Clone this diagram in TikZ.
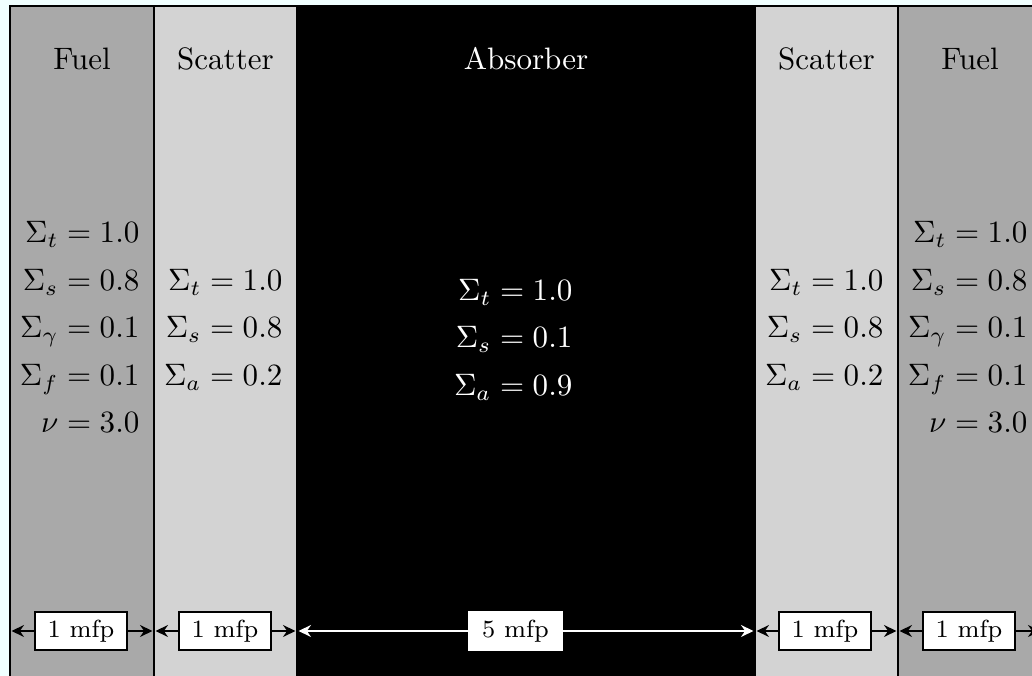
\documentclass[tikz,border=0pt]{standalone}
\usetikzlibrary{arrows.meta}
\definecolor{bgc}{RGB}{240,255,255}
\definecolor{fuelc}{RGB}{169,169,169}
\definecolor{scatc}{RGB}{211,211,211}
\begin{document}
\begin{tikzpicture}[x=0.32258pt,y=-0.32258pt,
  region/.style={draw=black, line width=0.75pt},
  title/.style={anchor=base, inner sep=0pt},
  eq/.style={anchor=base east, inner sep=0pt},
  mfp/.style={draw=black, line width=0.75pt, fill=white, font=\footnotesize, minimum width=29.7pt, minimum height=12.3pt, inner sep=0pt},
  dim/.style={line width=0.85pt, -{Stealth[length=4pt,width=3.8pt,inset=1.3pt]}},
]
\useasboundingbox (0,0) rectangle (1032,676);
\fill[bgc] (0,0) rectangle (1032,676);
\draw[region, fill=fuelc] (10,6) rectangle (154,700);
\draw[region, fill=scatc] (154,6) rectangle (297,700);
\draw[region, fill=black] (297,6) rectangle (755,700);
\draw[region, fill=scatc] (755,6) rectangle (898,700);
\draw[region, fill=fuelc] (898,6) rectangle (1042,700);

% titles
\node[title] (t1) at (82,70) {Fuel};
\node[title] (t2) at (225.5,70) {Scatter};
\node[title, text=white] (t3) at (526,70) {Absorber};
\node[title] (t4) at (826.5,70) {Scatter};
\node[title] (t5) at (970,70) {Fuel};

% left fuel
\node[eq] (f1a) at (140,243) {$\Sigma_t = 1.0$};
\node[eq] (f1b) at (140,291) {$\Sigma_s = 0.8$};
\node[eq] (f1c) at (140,338) {$\Sigma_\gamma = 0.1$};
\node[eq] (f1d) at (140,386) {$\Sigma_f = 0.1$};
\node[eq] (f1e) at (140,433) {$\nu = 3.0$};
% left scatter
\node[eq] (s1a) at (283,291) {$\Sigma_t = 1.0$};
\node[eq] (s1b) at (283,338) {$\Sigma_s = 0.8$};
\node[eq] (s1c) at (283,386) {$\Sigma_a = 0.2$};
% absorber
\node[eq, text=white] (aa) at (573,301) {$\Sigma_t = 1.0$};
\node[eq, text=white] (ab) at (573,348) {$\Sigma_s = 0.1$};
\node[eq, text=white] (ac) at (573,396) {$\Sigma_a = 0.9$};
% right scatter
\node[eq] (s2a) at (884,291) {$\Sigma_t = 1.0$};
\node[eq] (s2b) at (884,338) {$\Sigma_s = 0.8$};
\node[eq] (s2c) at (884,386) {$\Sigma_a = 0.2$};
% right fuel
\node[eq] (f2a) at (1028,243) {$\Sigma_t = 1.0$};
\node[eq] (f2b) at (1028,291) {$\Sigma_s = 0.8$};
\node[eq] (f2c) at (1028,338) {$\Sigma_\gamma = 0.1$};
\node[eq] (f2d) at (1028,386) {$\Sigma_f = 0.1$};
\node[eq] (f2e) at (1028,433) {$\nu = 3.0$};

% dimension edges
\coordinate (e0) at (11.5,631);
\coordinate (e1) at (152.5,631);
\coordinate (e1r) at (155.5,631);
\coordinate (e2) at (295.5,631);
\coordinate (e2r) at (298.5,631);
\coordinate (e3) at (753.5,631);
\coordinate (e3r) at (756.5,631);
\coordinate (e4) at (896.5,631);
\coordinate (e4r) at (899.5,631);
\coordinate (e5) at (1040.5,631);

\node[mfp] (m1) at (81,631) {1 mfp};
\node[mfp] (m2) at (225,631) {1 mfp};
\node[mfp, draw=white] (m3) at (515.5,631) {5 mfp};
\node[mfp] (m4) at (825,631) {1 mfp};
\node[mfp] (m5) at (969,631) {1 mfp};

\draw[dim] (m1.west) -- (e0);
\draw[dim] (m1.east) -- (e1);
\draw[dim] (m2.west) -- (e1r);
\draw[dim] (m2.east) -- (e2);
\draw[dim, white] (m3.west) -- (e2r);
\draw[dim, white] (m3.east) -- (e3);
\draw[dim] (m4.west) -- (e3r);
\draw[dim] (m4.east) -- (e4);
\draw[dim] (m5.west) -- (e4r);
\draw[dim] (m5.east) -- (e5);
\end{tikzpicture}
\end{document}
